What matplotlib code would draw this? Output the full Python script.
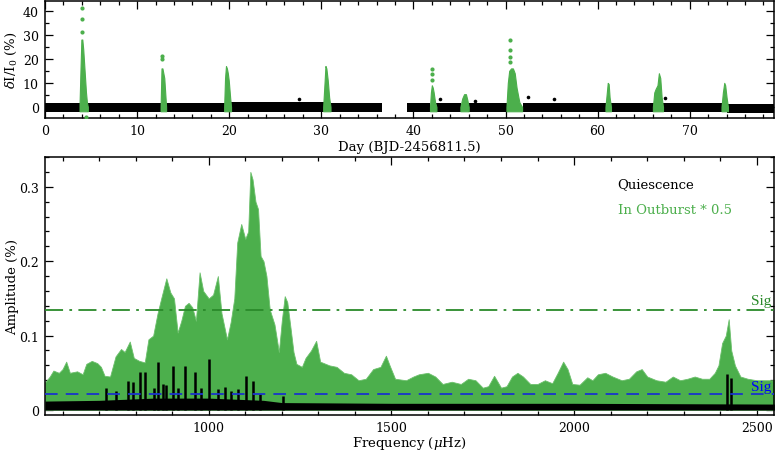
import numpy as np
import matplotlib
matplotlib.use("Agg")
import matplotlib.pyplot as plt
from matplotlib.ticker import MultipleLocator

plt.rcParams['font.family'] = ['DejaVu Serif']
plt.rcParams['mathtext.fontset'] = 'dejavuserif'

GREEN = '#4caf4c'
DGREEN = '#2a8a2a'

# ---------------- light curve data ----------------
# quiescent segments: start/end day and band envelope (%)
q_start = [0.0, 4.55, 13.15, 20.15, 30.95, 39.3, 42.45, 45.95, 51.85, 61.45, 67.05, 74.1]
q_end = [3.8, 12.6, 19.5, 30.25, 36.6, 41.85, 45.2, 50.2, 60.95, 66.1, 73.5, 79.2]
q_hi = [1.6, 1.6, 1.7, 2.0, 1.7, 1.6, 1.5, 1.6, 1.8, 1.7, 1.6, 1.2]
q_lo = [-2.3, -2.1, -2.1, -2.0, -2.0, -2.1, -2.1, -2.1, -1.9, -1.9, -2.1, -2.5]
# isolated quiescent points
qo_t = [27.55, 42.9, 46.7, 52.4, 55.25, 67.3]
qo_f = [3.3, 3.3, 2.4, 4.0, 3.3, 3.7]

# outbursts: (times, upper flux)
ob_t = [
    [3.75, 3.85, 3.95, 4.05, 4.15, 4.25, 4.35, 4.45, 4.55, 4.65],
    [12.55, 12.65, 12.75, 12.85, 12.95, 13.05, 13.15],
    [19.45, 19.55, 19.65, 19.75, 19.85, 19.95, 20.1, 20.2],
    [30.2, 30.35, 30.45, 30.55, 30.7, 30.85, 31.0],
    [41.8, 41.9, 42.0, 42.1, 42.2, 42.35, 42.5],
    [45.1, 45.3, 45.5, 45.7, 45.85, 46.0],
    [50.1, 50.25, 50.4, 50.6, 50.8, 51.0, 51.2, 51.5, 51.8],
    [60.85, 61.0, 61.1, 61.2, 61.3, 61.45],
    [66.0, 66.15, 66.3, 66.5, 66.65, 66.8, 66.95, 67.1],
    [73.45, 73.6, 73.75, 73.85, 74.0, 74.15],
]
ob_f = [
    [1, 15, 28, 28, 24, 18, 12, 6, 2, 0],
    [0, 16, 16, 14, 12, 6, 0],
    [0, 12, 17, 16, 14, 11, 4, 0],
    [0, 10, 17, 16, 11, 4, 0],
    [0, 6, 9, 8, 6, 2, 0],
    [0, 3.5, 5.3, 5.3, 3, 0],
    [0, 10, 15, 16, 16, 14, 8, 2, 0],
    [0, 6, 10, 9.5, 4, 0],
    [0, 6, 7.5, 9, 14, 12, 4, 0],
    [0, 6, 10, 9, 4, 0],
]
# isolated outburst points
obp_t = [4.05, 4.05, 4.05, 4.45, 12.7, 12.7, 42.0, 42.0, 42.0, 50.5, 50.5, 50.5, 50.5]
obp_f = [41, 36.5, 31, -4.3, 21, 20, 15.8, 13.8, 11.3, 27.6, 23.5, 20.8, 18.8]

# ---------------- spectrum data ----------------
ob_freq = [552, 565, 575, 590, 600, 610, 620, 640, 655, 665, 680, 695, 705, 715, 730, 745,
           760, 770, 784, 795, 810, 825, 835, 848, 860, 870, 884, 895, 905, 915, 925, 935,
           945, 955, 965, 975, 985, 1000, 1012, 1025, 1035, 1050, 1060, 1070, 1078, 1089,
           1100, 1108, 1114, 1120, 1128, 1135, 1142, 1150, 1158, 1167, 1180, 1192, 1200,
           1208, 1215, 1224, 1232, 1240, 1255, 1265, 1280, 1294, 1305, 1330, 1350, 1370,
           1390, 1410, 1430, 1450, 1470, 1485, 1495, 1510, 1540, 1560, 1575, 1600, 1620,
           1640, 1665, 1690, 1710, 1730, 1750, 1765, 1781, 1800, 1815, 1830, 1845, 1860,
           1880, 1900, 1920, 1940, 1955, 1970, 1982, 1995, 2015, 2036, 2050, 2065, 2085,
           2105, 2130, 2150, 2170, 2185, 2200, 2225, 2250, 2270, 2290, 2310, 2330, 2350,
           2370, 2385, 2395, 2405, 2415, 2423, 2430, 2440, 2455, 2475, 2500, 2525, 2548]
ob_amp = [0.037, 0.045, 0.053, 0.050, 0.055, 0.065, 0.050, 0.052, 0.048, 0.062, 0.066, 0.063,
          0.058, 0.046, 0.045, 0.072, 0.082, 0.078, 0.092, 0.070, 0.066, 0.064, 0.095, 0.100,
          0.130, 0.150, 0.177, 0.158, 0.150, 0.104, 0.120, 0.140, 0.144, 0.138, 0.120, 0.185,
          0.160, 0.150, 0.155, 0.180, 0.130, 0.095, 0.118, 0.150, 0.225, 0.250, 0.230, 0.240,
          0.320, 0.310, 0.280, 0.270, 0.207, 0.200, 0.180, 0.135, 0.115, 0.078, 0.120, 0.153,
          0.145, 0.110, 0.078, 0.062, 0.058, 0.070, 0.080, 0.093, 0.065, 0.060, 0.058, 0.050,
          0.048, 0.040, 0.042, 0.055, 0.058, 0.073, 0.060, 0.042, 0.040, 0.045, 0.048, 0.050,
          0.045, 0.035, 0.038, 0.035, 0.042, 0.040, 0.030, 0.032, 0.046, 0.030, 0.032, 0.045,
          0.050, 0.045, 0.035, 0.035, 0.040, 0.036, 0.050, 0.065, 0.055, 0.035, 0.034, 0.044,
          0.040, 0.048, 0.050, 0.045, 0.040, 0.042, 0.052, 0.055, 0.045, 0.040, 0.038, 0.045,
          0.040, 0.042, 0.045, 0.042, 0.042, 0.050, 0.060, 0.090, 0.100, 0.122, 0.080, 0.060,
          0.045, 0.042, 0.040, 0.040, 0.040]

q_freq = [552, 700, 850, 1000, 1150, 1200, 1500, 2000, 2548]
q_amp = [0.012, 0.013, 0.016, 0.016, 0.013, 0.010, 0.009, 0.009, 0.008]
spike_freq = [720, 745, 780, 793, 812, 827, 850, 862, 875, 884, 903, 915, 934, 962, 980,
              1000, 1025, 1044, 1060, 1080, 1103, 1120, 1140, 1203, 2418, 2428]
spike_amp = [0.030, 0.025, 0.039, 0.037, 0.051, 0.051, 0.030, 0.064, 0.035, 0.033, 0.059,
             0.030, 0.059, 0.051, 0.030, 0.068, 0.028, 0.031, 0.025, 0.028, 0.046, 0.039,
             0.022, 0.019, 0.048, 0.043]

sig_outburst = 0.135
sig_quiet = 0.021

# ---------------- figure ----------------
fig = plt.figure(figsize=(7.76, 4.52), dpi=100)
W, H = 776, 452
ax1 = fig.add_axes([45 / W, 1 - 119 / H, 729 / W, 117 / H])
ax2 = fig.add_axes([45 / W, 1 - 416 / H, 729 / W, 258 / H])

for t0, t1, hi, lo in zip(q_start, q_end, q_hi, q_lo):
    ax1.fill_between([t0, t1], [lo, lo], [hi, hi], color='black', lw=0, zorder=2)
ax1.plot(qo_t, qo_f, 'o', color='black', ms=2.6, mew=0, zorder=2)
for t, f in zip(ob_t, ob_f):
    ax1.fill_between(t, [-1.8] * len(t), f, color=GREEN, lw=0.8, edgecolor=GREEN, zorder=3)
ax1.plot(obp_t, obp_f, 'o', color=GREEN, ms=3.0, mew=0, zorder=3)

ax1.set_xlim(0, 79.15)
ax1.set_ylim(-4.6, 44)
ax1.xaxis.set_major_locator(MultipleLocator(10))
ax1.xaxis.set_minor_locator(MultipleLocator(2))
ax1.yaxis.set_major_locator(MultipleLocator(10))
ax1.yaxis.set_minor_locator(MultipleLocator(5))
ax1.set_xlabel('Day (BJD-2456811.5)', fontsize=9.5)
ax1.set_ylabel(r'$\delta$I/I$_0$ (%)', fontsize=9.5)
ax1.xaxis.set_label_coords(0.5, -0.19)
ax1.yaxis.set_label_coords(-0.035, 0.5)

# spectrum
ax2.fill_between(ob_freq, 0, ob_amp, color=GREEN, lw=0.6, edgecolor='#6cc06c', zorder=2)
ax2.fill_between(q_freq, 0, q_amp, color='black', lw=0, zorder=3)
ax2.vlines(spike_freq, 0, spike_amp, color='black', lw=1.8, zorder=3)
ax2.axhline(sig_outburst, color=DGREEN, lw=1.3, dashes=(10, 3.5, 1.5, 3.5), zorder=4)
ax2.axhline(sig_quiet, color='#1a33cc', lw=1.3, dashes=(7, 4.5), zorder=4)
ax2.text(2485, sig_outburst + 0.003, 'Sig', color=DGREEN, fontsize=11,
         family='Liberation Serif', va='bottom', ha='left', clip_on=False)
ax2.text(2485, sig_quiet + 0.002, 'Sig', color='blue', fontsize=11,
         family='Liberation Serif', va='bottom', ha='left', clip_on=False)
ax2.text(0.7855, 0.895, 'Quiescence', transform=ax2.transAxes, fontsize=9.5,
         color='black', va='center', ha='left')
ax2.text(0.7855, 0.797, 'In Outburst * 0.5', transform=ax2.transAxes, fontsize=9.5,
         color=GREEN, va='center', ha='left')

ax2.set_xlim(552, 2547)
ax2.set_ylim(-0.0067, 0.34)
ax2.xaxis.set_major_locator(MultipleLocator(500))
ax2.xaxis.set_minor_locator(MultipleLocator(100))
ax2.yaxis.set_minor_locator(MultipleLocator(0.02))
ax2.set_yticks([0, 0.1, 0.2, 0.3])
ax2.set_yticklabels(['0', '0.1', '0.2', '0.3'])
ax2.set_xlabel(r'Frequency ($\mu$Hz)', fontsize=9.5)
ax2.set_ylabel('Amplitude (%)', fontsize=9.5)
ax2.xaxis.set_label_coords(0.5, -0.072)
ax2.yaxis.set_label_coords(-0.035, 0.5)

for ax in (ax1, ax2):
    ax.tick_params(which='both', direction='in', top=True, right=True, labelsize=9,
                   pad=4.5, width=0.9)
    ax.tick_params(which='major', length=5.5)
    ax.tick_params(which='minor', length=2.8)
    for s in ax.spines.values():
        s.set_linewidth(1.1)

fig.savefig('out.png', dpi=100)
